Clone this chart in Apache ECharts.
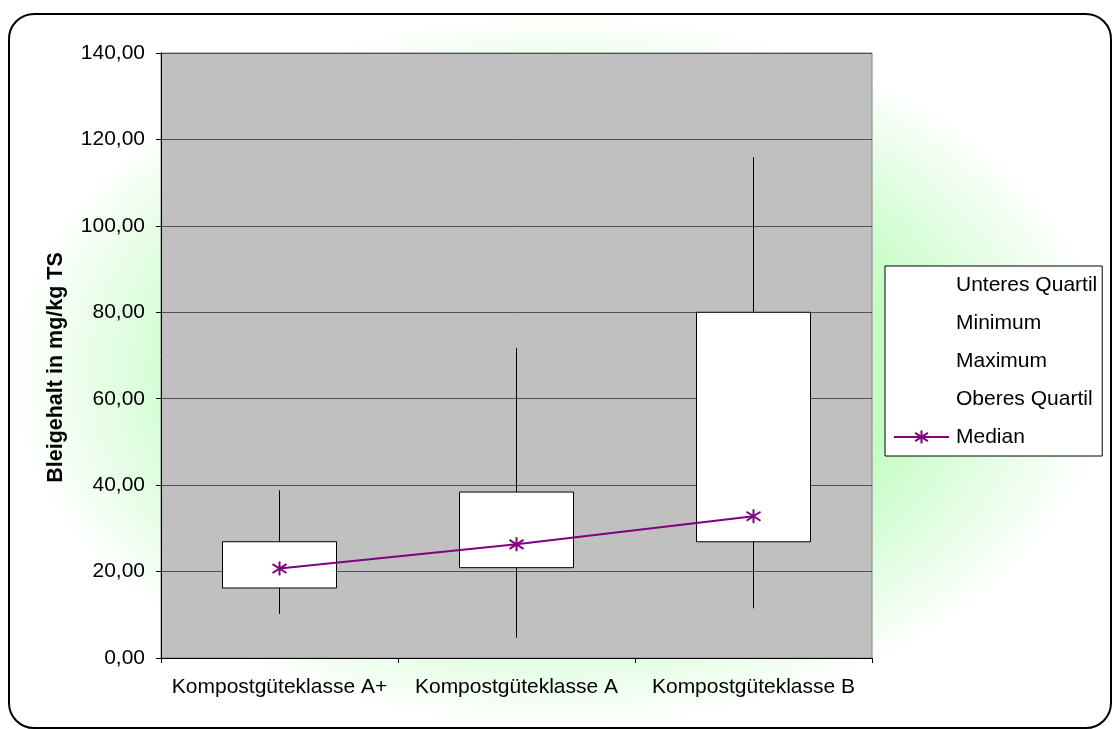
<!DOCTYPE html>
<html>
<head>
<meta charset="utf-8">
<script src="https://cdn.jsdelivr.net/npm/echarts@6/dist/echarts.min.js"></script>
<style>
  body { margin: 0; background: #fff; }
  #wrap { position: relative; width: 1114px; height: 729px; overflow: hidden; }
  /* Rahmen mit grünem Verlauf hinter dem Diagramm */
  #frame {
    position: absolute; left: 8px; top: 13px; width: 1104px; height: 716px;
    border: 2px solid #000; border-radius: 26px; box-sizing: border-box;
    background: radial-gradient(ellipse farthest-side at 50% 50%, #c2fcc2 0%, #c6fcc6 62%, #ffffff 100%);
  }
  #main { position: absolute; left: 0; top: 0; width: 1114px; height: 729px; }
</style>
</head>
<body>
<div id="wrap">
  <div id="frame"></div>
  <div id="main"></div>
</div>
<script>
// Kategorien und Kennwerte (mg/kg TS)
var categories = ['Kompostgüteklasse A+', 'Kompostgüteklasse A', 'Kompostgüteklasse B'];
var unteresQuartil = [16.2, 20.9, 26.9];
var minimum = [10.2, 4.7, 11.5];
var maximum = [38.8, 71.7, 115.9];
var oberesQuartil = [26.9, 38.4, 80.0];
var median = [20.7, 26.3, 32.8];

// Box: [open, close, low, high]
var boxData = categories.map(function (c, i) {
    return [unteresQuartil[i], oberesQuartil[i], minimum[i], maximum[i]];
});

var fontFam = '"Liberation Sans", Arial, sans-serif';
// Stern-Marker wie in Excel (senkrecht + X)
var starPath = 'path://M5,0L5,10M1.2,1.8L8.8,8.2M1.2,8.2L8.8,1.8';

function hiddenSeries(name, data) {
    return {
        name: name,
        type: 'line',
        data: data,
        symbol: 'none',
        silent: true,
        lineStyle: { opacity: 0 },
        itemStyle: { opacity: 0 },
        z: 1
    };
}

var myChart = echarts.init(document.getElementById('main'));
myChart.setOption({
    backgroundColor: 'transparent',
    animation: false,
    textStyle: { fontFamily: fontFam },
    grid: {
        left: 161, top: 53, right: 242, bottom: 71,
        show: true,
        backgroundColor: '#c0c0c0',
        borderColor: '#808080',
        borderWidth: 1
    },
    legend: {
        orient: 'vertical',
        left: 885, top: 266,
        padding: [8, 5, 8, 8],
        itemGap: 16,
        itemWidth: 55,
        itemHeight: 16,
        backgroundColor: '#fff',
        borderColor: '#000',
        borderWidth: 1,
        textStyle: { fontSize: 21, lineHeight: 22, color: '#000', fontFamily: fontFam, padding: [0, 0, 0, 2] },
        data: ['Unteres Quartil', 'Minimum', 'Maximum', 'Oberes Quartil', 'Median']
    },
    xAxis: {
        type: 'category',
        data: categories,
        axisLine: { lineStyle: { color: '#000', width: 1 } },
        axisTick: { show: true, interval: 0, length: 5, lineStyle: { color: '#000' } },
        axisLabel: { interval: 0, hideOverlap: false, color: '#000', fontSize: 21, margin: 19, fontFamily: fontFam },
        splitLine: { show: false }
    },
    yAxis: {
        type: 'value',
        min: 0, max: 140, interval: 20,
        name: 'Bleigehalt in mg/kg TS',
        nameLocation: 'middle',
        nameGap: 94,
        nameTextStyle: {
            fontSize: 21.5, fontWeight: 'bold', color: '#000', fontFamily: fontFam,
            padding: [0, 24, 0, 0]
        },
        axisLine: { show: true, lineStyle: { color: '#000', width: 1 } },
        axisTick: { show: true, length: 5, lineStyle: { color: '#000' } },
        axisLabel: {
            color: '#000', fontSize: 21, margin: 16, fontFamily: fontFam,
            formatter: function (v) { return v.toFixed(2).replace('.', ','); }
        },
        splitLine: { show: true, lineStyle: { color: '#505050', width: 1 } }
    },
    series: [
        hiddenSeries('Unteres Quartil', unteresQuartil),
        hiddenSeries('Minimum', minimum),
        hiddenSeries('Maximum', maximum),
        hiddenSeries('Oberes Quartil', oberesQuartil),
        {
            name: 'Box',
            type: 'candlestick',
            data: boxData,
            barWidth: '48.5%',
            silent: true,
            itemStyle: {
                color: '#fff', color0: '#fff',
                borderColor: '#000', borderColor0: '#000',
                borderWidth: 1
            },
            z: 2
        },
        {
            name: 'Median',
            type: 'line',
            data: median,
            symbol: starPath,
            symbolSize: 14,
            color: '#800080',
            lineStyle: { color: '#800080', width: 2 },
            itemStyle: { color: '#800080', borderColor: '#800080', borderWidth: 2 },
            z: 3
        }
    ]
});
</script>
</body>
</html>
